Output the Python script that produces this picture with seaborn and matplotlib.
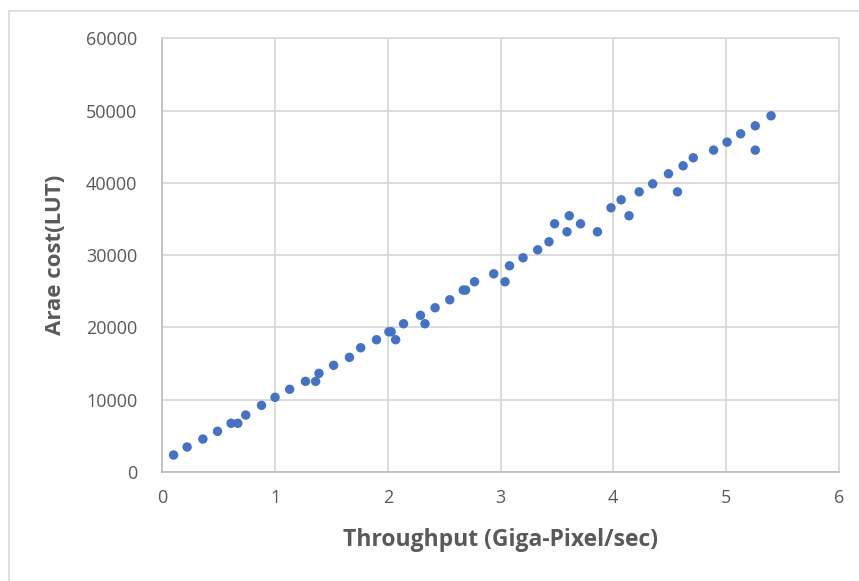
import pandas as pd
import seaborn as sns
import matplotlib.pyplot as plt
from matplotlib.patches import Rectangle

# Throughput (Giga-Pixel/sec) vs area cost (LUT)
throughput = [0.10, 0.22, 0.36, 0.49, 0.61, 0.67, 0.74, 0.88, 1.00, 1.13,
              1.27, 1.36, 1.39, 1.52, 1.66, 1.76, 1.90, 2.01, 2.03, 2.07,
              2.14, 2.29, 2.33, 2.42, 2.55, 2.67, 2.69, 2.77, 2.94, 3.04,
              3.08, 3.20, 3.33, 3.43, 3.48, 3.59, 3.61, 3.71, 3.86, 3.98,
              4.07, 4.14, 4.23, 4.35, 4.49, 4.57, 4.62, 4.71, 4.89, 5.01,
              5.13, 5.26, 5.26, 5.40]
lut_cost = [2350, 3460, 4560, 5630, 6740, 6740, 7880, 9220, 10330, 11440,
            12540, 12540, 13650, 14760, 15860, 17190, 18300, 19400, 19400, 18300,
            20510, 21670, 20510, 22720, 23830, 25170, 25170, 26320, 27420, 26320,
            28530, 29640, 30740, 31850, 34340, 33230, 35450, 34340, 33230, 36550,
            37660, 35450, 38760, 39870, 41260, 38760, 42360, 43470, 44530, 45640,
            46790, 47890, 44530, 49280]

x_ticks = [0, 1, 2, 3, 4, 5, 6]
y_ticks = [0, 10000, 20000, 30000, 40000, 50000, 60000]

df = pd.DataFrame({"throughput": throughput, "lut": lut_cost})

sns.set_style("white")
plt.rcParams['font.family'] = ['Open Sans', 'DejaVu Sans']

text_gray = "#595959"
grid_gray = "#D9D9D9"

fig, ax = plt.subplots(figsize=(8.59, 5.81), dpi=100)
fig.subplots_adjust(left=162.3 / 859, right=838.7 / 859,
                    bottom=1 - 472 / 581, top=1 - 38.3 / 581)

# light frame around the whole chart
fig.patches.append(Rectangle((9 / 859, -0.1), 1.2, 1.1 - 11 / 581,
                             transform=fig.transFigure, fill=False,
                             edgecolor=grid_gray, linewidth=1.2))

sns.scatterplot(data=df, x="throughput", y="lut", ax=ax,
                color="#4472C4", s=46, edgecolor="none", zorder=3)

ax.set_xlim(0, 6)
ax.set_ylim(0, 60000)
ax.set_xticks(x_ticks)
ax.set_yticks(y_ticks)
ax.grid(True, color=grid_gray, linewidth=1.3)
ax.set_axisbelow(True)
for side in ax.spines.values():
    side.set_color(grid_gray)
    side.set_linewidth(1.3)
ax.spines['left'].set_color("#BFBFBF")
ax.spines['bottom'].set_color("#BFBFBF")

ax.tick_params(axis='both', length=0, labelsize=13, labelcolor=text_gray)
ax.tick_params(axis='x', pad=12)
ax.tick_params(axis='y', pad=18)

ax.set_xlabel("Throughput (Giga-Pixel/sec)", fontsize=16.5, fontweight='bold',
              color=text_gray, labelpad=15)
ax.set_ylabel("Arae cost(LUT)", fontsize=16, fontweight='bold',
              color=text_gray, labelpad=14)

fig.savefig("out.png", dpi=100)
